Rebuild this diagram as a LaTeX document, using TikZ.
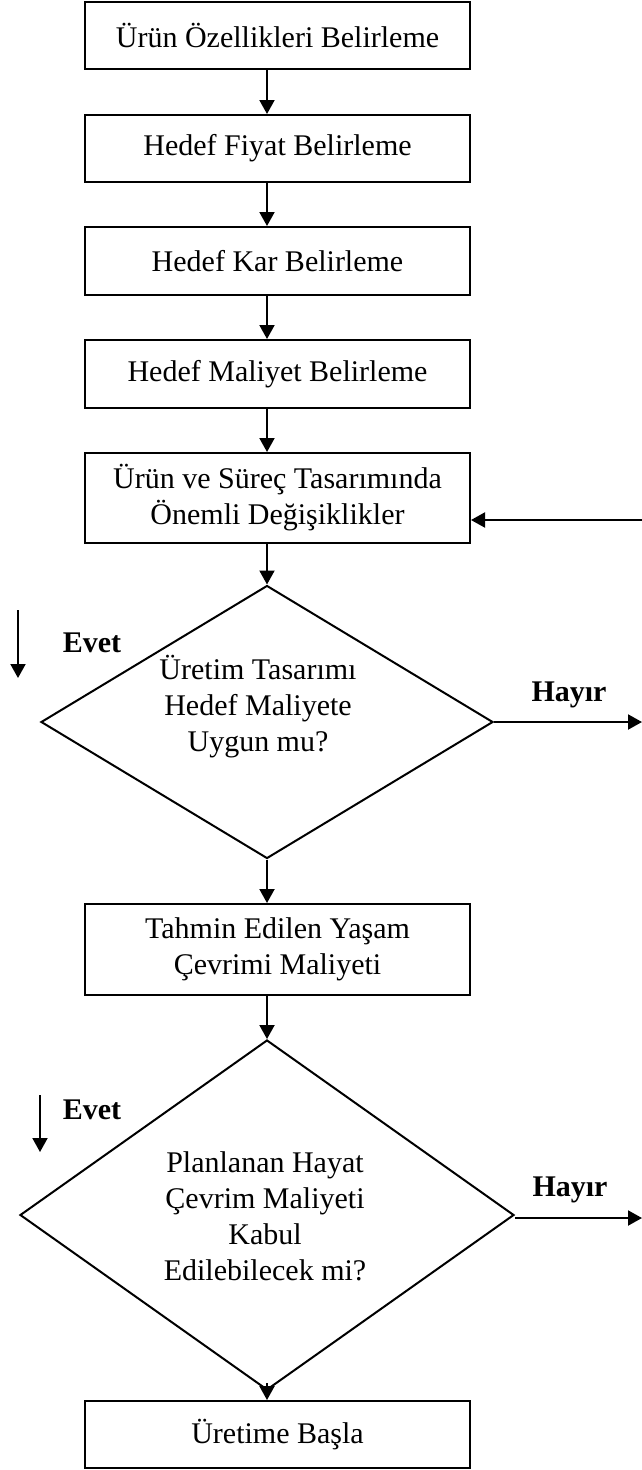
\documentclass[tikz,border=0pt]{standalone}
\usepackage{fontspec}
\setmainfont{Liberation Serif}
\usetikzlibrary{arrows.meta,shapes.geometric}
\begin{document}
\begin{tikzpicture}[x=1pt,y=-1pt,
  every node/.style={font=\fontsize{30}{36}\selectfont},
  stepbox/.style={draw,line width=2pt,minimum width=385pt,inner sep=0pt,align=center},
  decision/.style={draw,diamond,line width=2pt,inner sep=0pt,aspect=1.6},
  lbl/.style={font=\fontsize{30}{36}\selectfont\bfseries},
  flow/.style={line width=2pt,-{Triangle[length=14pt,width=15pt]}}]
\useasboundingbox (0,0) rectangle (642,1470);

% process column
\coordinate (ax) at (267,0);

\node[stepbox,minimum height=67pt] (b1) at (277.5,35.5) {Ürün Özellikleri Belirleme};
\node[stepbox,minimum height=67pt] (b2) at (277.5,148.5) {Hedef Fiyat Belirleme};
\node[stepbox,minimum height=68pt] (b3) at (277.5,261) {Hedef Kar Belirleme};
\node[stepbox,minimum height=68pt] (b4) at (277.5,374) {Hedef Maliyet Belirleme};
\node[stepbox,minimum height=90pt] (b5) at (277.5,498) {Ürün ve Süreç Tasarımında\\Önemli Değişiklikler};

\node[decision,minimum width=452pt,minimum height=273pt] (d1) at (267,722) {};
\node[align=center] (t1) at (258,707) {Üretim Tasarımı\\Hedef Maliyete\\Uygun mu?};

\node[stepbox,minimum height=91pt] (b6) at (277.5,949.5) {Tahmin Edilen Yaşam\\Çevrimi Maliyeti};

\node[decision,minimum width=494pt,minimum height=350pt] (d2) at (267,1215) {};
\node[align=center] (t2) at (265,1216) {Planlanan Hayat\\Çevrim Maliyeti\\Kabul\\Edilebilecek mi?};

\node[stepbox,minimum height=67pt] (b7) at (277.5,1434.5) {Üretime Başla};

% vertical flow
\draw[flow] (b1.south -| ax) -- (b2.north -| ax);
\draw[flow] (b2.south -| ax) -- (b3.north -| ax);
\draw[flow] (b3.south -| ax) -- (b4.north -| ax);
\draw[flow] (b4.south -| ax) -- (b5.north -| ax);
\draw[flow] (b5.south -| ax) -- (d1.north);
\draw[flow] (d1.south) -- (b6.north -| ax);
\draw[flow] (b6.south -| ax) -- (d2.north);
\draw[flow] (d2.south) ++(0,-8) -- (b7.north -| ax);

% loop back into the redesign step
\coordinate (r0) at (642,520);
\draw[flow] (r0) -- (r0 -| b5.east);

% "no" exits
\coordinate (h1) at (642,722);
\draw[flow] (d1.east) -- (h1);
\node[lbl] (n1) at (569,695) {Hayır};
\coordinate (h2) at (642,1218);
\draw[flow] (d2.east) ++(0,3) -- (h2);
\node[lbl] (n2) at (570,1190) {Hayır};

% "yes" markers
\coordinate (y1a) at (18,610);
\coordinate (y1b) at (18,678);
\draw[flow] (y1a) -- (y1b);
\node[lbl] (e1) at (92,643) {Evet};
\coordinate (y2a) at (40,1095);
\coordinate (y2b) at (40,1152);
\draw[flow] (y2a) -- (y2b);
\node[lbl] (e2) at (92,1110) {Evet};
\end{tikzpicture}
\end{document}
